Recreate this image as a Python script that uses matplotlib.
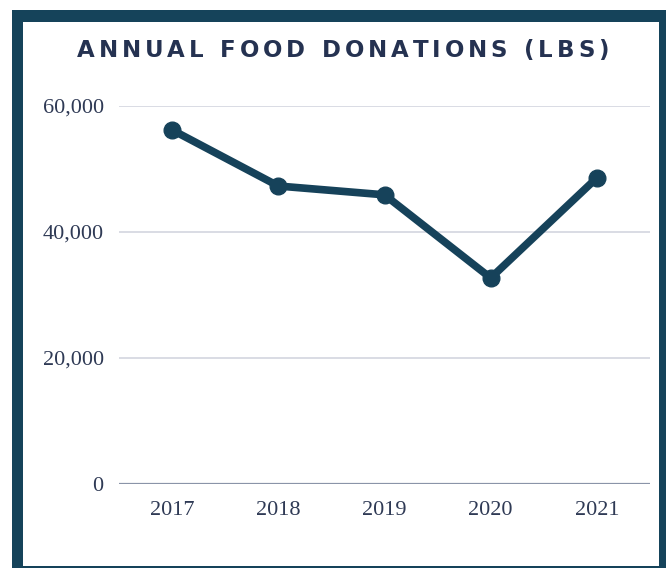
import matplotlib
matplotlib.use("Agg")
import matplotlib.pyplot as plt
from matplotlib.patches import Rectangle

years = ["2017", "2018", "2019", "2020", "2021"]
donations = [56200, 47300, 45900, 32700, 48600]
y_ticks = [0, 20000, 40000, 60000]
y_tick_labels = ["0", "20,000", "40,000", "60,000"]
title = "ANNUAL FOOD DONATIONS (LBS)"

W, H = 666, 568
line_color = "#16425a"
frame_color = "#15435a"
title_color = "#253251"
tick_color = "#2f3a55"

fig = plt.figure(figsize=(W / 100, H / 100), dpi=100)
fig.patch.set_facecolor("white")

def px_box(x0, y0, x1, y1):
    # pixel box (top-left origin) -> figure fraction rect
    return (x0 / W, 1 - y1 / H, (x1 - x0) / W, (y1 - y0) / H)

# thick frame, cut off at right and bottom edges
for x0, y0, x1, y1 in [(12, 10, 23, 568), (12, 10, 666, 22),
                       (659, 10, 666, 568), (12, 566, 666, 568)]:
    l, b, w, h = px_box(x0, y0, x1, y1)
    fig.add_artist(Rectangle((l, b), w, h, transform=fig.transFigure,
                             facecolor=frame_color, edgecolor="none"))

l, b, w, h = px_box(119, 106, 650, 484)
ax = fig.add_axes([l, b, w, h])
x = range(len(years))
ax.plot(x, donations, color=line_color, lw=5.5, marker="o", ms=12,
        solid_capstyle="round", clip_on=False, zorder=3)

ax.set_xlim(-0.5, len(years) - 0.5)
ax.set_ylim(0, 60000)
ax.set_xticks(list(x))
ax.set_xticklabels(years)
ax.set_yticks(y_ticks)
ax.set_yticklabels(y_tick_labels)
for lab in ax.get_xticklabels() + ax.get_yticklabels():
    lab.set_fontfamily("Liberation Serif")
    lab.set_fontsize(16)
    lab.set_color(tick_color)
ax.tick_params(axis="both", length=0)
ax.tick_params(axis="y", pad=11)
ax.tick_params(axis="x", pad=12)
for s in ax.spines.values():
    s.set_visible(False)
for v in y_ticks[1:]:
    ax.axhline(v, color="#d0d2dc", lw=1.1, zorder=1)
ax.axhline(0, color="#8a94a8", lw=1.6, zorder=1)

# letter-spaced title, laid out char by char
fig.canvas.draw()
renderer = fig.canvas.get_renderer()
kw = dict(fontfamily="DejaVu Sans", fontweight="bold", fontsize=16.5,
          color=title_color, va="baseline", ha="left")
widths = []
for ch in title:
    if ch == " ":
        widths.append(9.0)
        continue
    t = fig.text(0, 0, ch, **kw)
    widths.append(t.get_window_extent(renderer).width)
    t.remove()
x_start, x_end, baseline = 77, 609, 57
gap = (x_end - x_start - sum(widths)) / (len(title) - 1)
xp = x_start
for ch, wd in zip(title, widths):
    if ch != " ":
        fig.text(xp / W, 1 - baseline / H, ch, **kw)
    xp += wd + gap

fig.savefig("out.png", dpi=100, facecolor="white")
